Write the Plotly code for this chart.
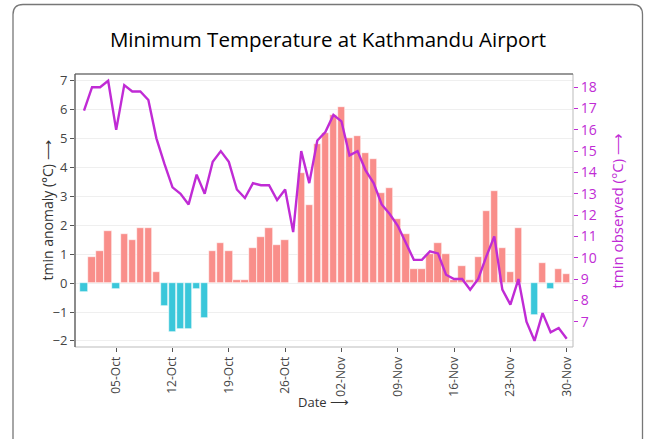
import pandas as pd
import plotly.graph_objects as go

dates = pd.date_range("2023-10-01", "2023-11-30", freq="D")

anomaly = [
    -0.3, 0.9, 1.1, 1.8, -0.2, 1.7, 1.5, 1.9, 1.9, 0.4,
    -0.8, -1.7, -1.6, -1.6, -0.2, -1.2, 1.1, 1.4, 1.1, 0.1,
    0.1, 1.2, 1.6, 1.9, 1.3, 1.5, 0.0, 3.8, 2.7, 4.8, 5.2,
    5.8, 6.1, 5.0, 5.1, 4.5, 4.3, 3.1, 3.3, 2.2, 1.7,
    0.5, 0.5, 1.0, 1.4, 1.0, 0.1, 0.6, 0.1, 0.9, 2.5,
    3.2, 1.2, 0.4, 1.9, 0.0, -1.1, 0.7, -0.2, 0.5, 0.3,
]

observed = [
    16.9, 18.0, 18.0, 18.3, 16.0, 18.1, 17.8, 17.8, 17.4, 15.6,
    14.4, 13.3, 13.0, 12.5, 13.9, 13.0, 14.5, 15.0, 14.5, 13.2,
    12.8, 13.5, 13.4, 13.4, 12.7, 13.2, 11.2, 15.0, 13.5, 15.5, 15.9,
    16.7, 16.4, 14.8, 15.0, 14.1, 13.5, 12.5, 12.05, 11.5, 10.7,
    9.9, 9.9, 10.3, 10.2, 9.2, 9.0, 9.0, 8.5, 9.0, 10.05,
    11.0, 8.5, 7.8, 9.0, 7.0, 6.1, 7.4, 6.5, 6.7, 6.2,
]

left_ticks = [-2, -1, 0, 1, 2, 3, 4, 5, 6, 7]
right_ticks = [7, 8, 9, 10, 11, 12, 13, 14, 15, 16, 17, 18]

POS = "#F98E8A"
NEG = "#3AC7DA"
PURPLE = "#C02BD5"
FONT = "Open Sans"

bar_colors = [POS if v >= 0 else NEG for v in anomaly]

fig = go.Figure()
fig.add_trace(go.Bar(
    x=dates, y=anomaly, marker=dict(color=bar_colors, line=dict(color="white", width=0.6)),
    width=0.92 * 86400000, yaxis="y", showlegend=False,
))
fig.add_trace(go.Scatter(
    x=dates, y=observed, mode="lines", line=dict(color=PURPLE, width=2.4),
    yaxis="y2", showlegend=False,
))

W, H = 648, 439
L, R, T, B = 75, 75, 74, 92
pw, ph = W - L - R, H - T - B

def px_x(p):
    return (p - L) / pw

def px_y(p):
    return (H - B - p) / ph

xl, xr = px_x(13), px_x(642.5)
yt, yb = px_y(4.5), px_y(460)
dx, dy = 10 / pw, 10 / ph
border_path = (f"M {xl},{yb} L {xl},{yt - dy} Q {xl},{yt} {xl + dx},{yt} "
               f"L {xr - dx},{yt} Q {xr},{yt} {xr},{yt - dy} L {xr},{yb}")

annotations = [
    dict(text="tmin anomaly (°C) ⟶", xref="paper", yref="paper", x=px_x(47), y=0.5,
         xanchor="center", yanchor="middle", textangle=-90, showarrow=False,
         font=dict(size=14, color="#333333", family=FONT)),
    dict(text="tmin observed (°C) ⟶", xref="paper", yref="paper", x=px_x(616), y=0.5,
         xanchor="center", yanchor="middle", textangle=-90, showarrow=False,
         font=dict(size=15, color=PURPLE, family=FONT)),
    dict(text="Date ⟶", xref="paper", yref="paper", x=px_x(323), y=px_y(402),
         xanchor="center", yanchor="middle", showarrow=False,
         font=dict(size=13, color="#333333", family=FONT)),
]

fig.update_layout(
    width=W, height=H,
    margin=dict(l=L, r=R, t=T, b=B, autoexpand=False),
    paper_bgcolor="white", plot_bgcolor="white",
    font=dict(family=FONT, color="#444444"),
    title=dict(text="Minimum Temperature at Kathmandu Airport", x=px_x(328) * pw / W + L / W,
               xanchor="center", y=1 - 40 / H, yanchor="middle",
               font=dict(size=20.5, color="#000000", family=FONT)),
    bargap=0,
    xaxis=dict(
        type="date", range=["2023-09-29 21:07", "2023-11-30 18:45"],
        tick0="2023-10-05", dtick=7 * 86400000, tickformat="%d-%b", tickangle=-90,
        ticks="outside", ticklen=4, tickcolor="#555555", tickfont=dict(size=12, color="#444444"),
        showgrid=False, zeroline=False, showline=False, automargin=False,
    ),
    yaxis=dict(
        range=[-2.21, 7.23], tickvals=left_ticks, ticks="outside", ticklen=4, tickcolor="#555555",
        tickfont=dict(size=13, color="#444444"), showgrid=True, gridcolor="#EFEFEF", gridwidth=1,
        zeroline=False, showline=False, automargin=False,
    ),
    yaxis2=dict(
        range=[5.81, 18.62], tickvals=right_ticks, overlaying="y", side="right",
        ticks="outside", ticklen=4, tickcolor=PURPLE, tickfont=dict(size=14, color=PURPLE),
        showgrid=False, zeroline=False, showline=False, automargin=False,
    ),
    annotations=annotations,
    shapes=[
        dict(type="rect", xref="paper", yref="paper", x0=0, x1=1, y0=0, y1=1,
             line=dict(color="#BBBBBB", width=1), layer="above"),
        dict(type="line", xref="paper", yref="paper", x0=0, x1=0, y0=0, y1=1,
             line=dict(color="#555555", width=1.2), layer="above"),
        dict(type="line", xref="paper", yref="paper", x0=0, x1=1, y0=1, y1=1,
             line=dict(color="#555555", width=1.2), layer="above"),
        dict(type="path", xref="paper", yref="paper", path=border_path,
             line=dict(color="#777777", width=1.3), layer="above"),
    ],
)

fig.write_html("out.html", config={"displayModeBar": False},
               post_script="document.body.style.margin='0';document.body.style.overflow='hidden';")
